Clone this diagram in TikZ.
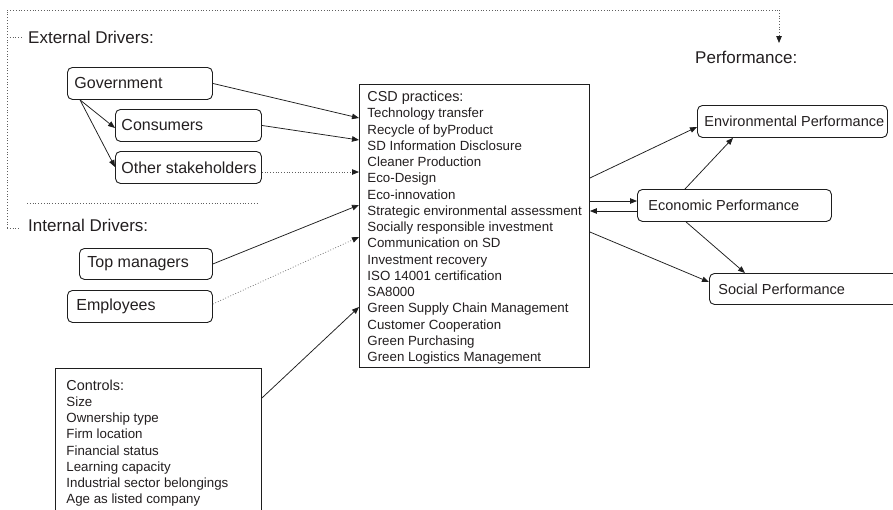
\documentclass[tikz,border=0pt]{standalone}
\usepackage{fontspec}
\setmainfont{Liberation Sans}
\usetikzlibrary{arrows.meta,calc}
\definecolor{textc}{RGB}{35,31,32}
\definecolor{linec}{RGB}{30,30,30}
\definecolor{dotc}{RGB}{95,95,95}
\newcommand\lbx[3]{\hbox to #1pt{\hskip #2pt #3\hss}}
\begin{document}
\begin{tikzpicture}[x=1pt,y=-1pt,
  every node/.style={text=textc, inner sep=0pt},
  rbox/.style={draw=linec, line width=0.9pt, rounded corners=5pt, anchor=north west},
  sbox/.style={draw=linec, line width=0.9pt, anchor=north west},
  arr/.style={draw=linec, line width=0.75pt, -{Triangle[length=7pt,width=5.5pt]}},
  darr/.style={draw=dotc, line width=0.75pt, dotted, -{Triangle[length=7pt,width=5.5pt,color=linec]}},
  dotl/.style={draw=dotc, line width=0.8pt, dotted},
  drvf/.style={font=\fontsize{16}{19}\selectfont},
  perff/.style={font=\fontsize{14.5}{17}\selectfont},
  headf/.style={font=\fontsize{17}{20}\selectfont, anchor=west}]
\useasboundingbox (0,0) rectangle (893,509);
\clip (0,0) rectangle (893,509);
\fill[white] (0,0) rectangle (893,509);

% section labels
\node[headf] (ext) at (28,37) {External Drivers:};
\node[headf] (int) at (28,225) {Internal Drivers:};
\node[headf] (perf) at (695,57) {Performance:};

% dotted bracket
\coordinate (bl) at (7,228);
\coordinate (tl) at (7,10);
\coordinate (tr) at (779,10);
\coordinate (pa) at (779,43);
\draw[dotl] (bl) -- (tl) -- (tr);
\draw[darr] (tr) -- (pa);
\draw[dotl] (7,37) -- (22,37);
\draw[dotl] (bl) -- (20,228);
\draw[dotl] (27,203) -- (258,203);

% driver boxes
\node[rbox, drvf, minimum width=145pt, minimum height=32pt] (gov) at (67,67) {\lbx{145}{7}{Government}};
\node[rbox, drvf, minimum width=146pt, minimum height=32pt] (con) at (115,109) {\lbx{146}{6}{Consumers}};
\node[rbox, drvf, minimum width=146pt, minimum height=32pt] (oth) at (115,151) {\lbx{146}{6}{Other stakeholders}};
\node[rbox, drvf, minimum width=133pt, minimum height=31pt] (top) at (79,248) {\lbx{133}{8}{Top managers}};
\node[rbox, drvf, minimum width=145pt, minimum height=32pt] (emp) at (67,290) {\lbx{145}{9}{Employees}};

% CSD practices
\node[sbox, minimum width=230pt, minimum height=283pt, font=\fontsize{13.3}{16.25}\selectfont] (csd) at (359,84)
 {\lbx{230}{8}{\vbox{\vskip5pt\hbox{\begin{tabular}{@{}l@{}}
 {\fontsize{14.4}{16.25}\selectfont CSD practices:}\\
 Technology transfer\\
 Recycle of byProduct\\
 SD Information Disclosure\\
 Cleaner Production\\
 Eco-Design\\
 Eco-innovation\\
 Strategic environmental assessment\\
 Socially responsible investment\\
 Communication on SD\\
 Investment recovery\\
 ISO 14001 certification\\
 SA8000\\
 Green Supply Chain Management\\
 Customer Cooperation\\
 Green Purchasing\\
 Green Logistics Management
 \end{tabular}}}}};

% Controls
\node[sbox, inner ysep=10.5pt, font=\fontsize{13.3}{16.2}\selectfont] (ctrl) at (55,368)
 {\lbx{206}{11}{\begin{tabular}[t]{@{}l@{}}
 {\fontsize{14.4}{16.2}\selectfont Controls:}\\
 Size\\
 Ownership type\\
 Firm location\\
 Financial status\\
 Learning capacity\\
 Industrial sector belongings\\
 Age as listed company
 \end{tabular}}};

% performance boxes
\node[rbox, perff, minimum width=190pt, minimum height=32pt] (env) at (697,105) {\lbx{190}{7}{Environmental Performance}};
\node[rbox, perff, minimum width=194pt, minimum height=32pt] (eco) at (637,189) {\lbx{194}{11}{Economic Performance}};
\node[rbox, perff, minimum width=200pt, minimum height=31pt] (soc) at (709,273) {\lbx{200}{9}{Social Performance}};

% connectors
\draw[arr] (gov.east) -- (csd.west |- 0,118);
\draw[arr] (con.east) -- (csd.west |- 0,140);
\draw[darr] (oth.east |- 0,172) -- (csd.west |- 0,172);
\draw[arr] ($(gov.south west)+(13,0)$) -- (con.west |- 0,128);
\draw[arr] ($(gov.south west)+(13,0)$) -- (oth.west |- 0,167);
\draw[arr] (top.east) -- (csd.west |- 0,205);
\draw[darr] (emp.east |- 0,304) -- (csd.west |- 0,237);
\draw[arr] (ctrl.east |- 0,398) -- (csd.west |- 0,307);
\draw[arr] (csd.east |- 0,178) -- (env.west |- 0,127);
\draw[arr] (eco.north -| 685,0) -- (env.south -| 733,0);
\draw[arr] (csd.east |- 0,201) -- (eco.west |- 0,201);
\draw[arr] (eco.west |- 0,211) -- (csd.east |- 0,211);
\draw[arr] (csd.east |- 0,232) -- (soc.west |- 0,282);
\draw[arr] (eco.south -| 686,0) -- (soc.north -| 745,0);
\end{tikzpicture}
\end{document}
